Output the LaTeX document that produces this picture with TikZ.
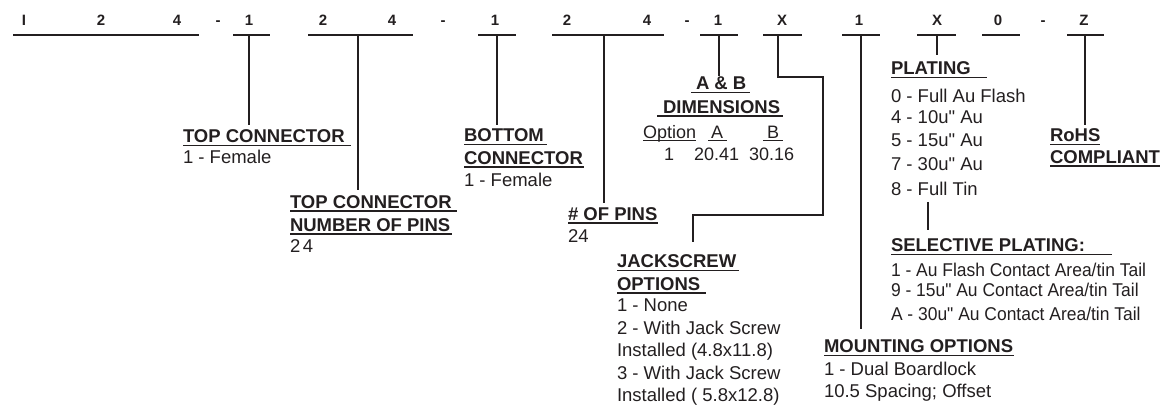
\documentclass[tikz,border=0pt]{standalone}
\usepackage{fontspec}
\usepackage{graphicx}
\setmainfont{Liberation Sans}[Ligatures=TeXOff]
\definecolor{ink}{HTML}{231F20}
\tikzset{
  every node/.style={inner sep=0pt, outer sep=0pt, text=ink},
  code/.style={anchor=base, font=\fontsize{15}{18}\selectfont\bfseries},
  head/.style={anchor=base west, font=\fontsize{18.5}{22}\selectfont\bfseries},
  body/.style={anchor=base west, font=\fontsize{18.5}{22}\selectfont},
  tab/.style={anchor=base, font=\fontsize{18}{22}\selectfont},
  tabw/.style={anchor=base west, font=\fontsize{18}{22}\selectfont},
  bar/.style={draw=ink, line width=2pt},
  conn/.style={draw=ink, line width=1.8pt},
  ul/.style={draw=ink, line width=1.6pt},
  tul/.style={draw=ink, line width=1pt},
}
\begin{document}
\begin{tikzpicture}[x=1pt, y=-1pt]
\useasboundingbox (0,0) rectangle (1174,406);

% code characters
\foreach \px/\ch [count=\i] in {24/I,101/2,177/4,218/-,249/1,323/2,392/4,443/-,495/1,567/2,647/4,687/-,718/1,782/X,859/1,937/X,998/0,1043/-,1084/Z}
  \node[code] (c\i) at (\px,26) {\ch};

% bars under the code
\foreach \a/\b in {13/199,233/270,308/413,478/516,552/664,700/738,763/802,842/880,917/956,982/1020,1067/1104}
  \draw[bar] (\a,35) -- (\b,35);

% connection points on the bars
\coordinate (k1) at (249,35);
\coordinate (k2) at (358,35);
\coordinate (k3) at (497,35);
\coordinate (k4) at (604,35);
\coordinate (k5) at (719,35);
\coordinate (k6) at (778,35);
\coordinate (k7) at (861,35);
\coordinate (k8) at (937,35);
\coordinate (k9) at (1085,35);

% TOP CONNECTOR
\node[head] (h1) at (183,142.7) {TOP CONNECTOR};
\node[body] (t1) at (183,163.3) {1 - Female};

% TOP CONNECTOR NUMBER OF PINS
\node[head] (h2a) at (290,208.3) {TOP CONNECTOR};
\node[head] (h2b) at (290,231) {NUMBER OF PINS};
\node[body] (t2) at (290,252.7) {2\kern2.5pt 4};

% BOTTOM CONNECTOR
\node[head] (h3a) at (464,141.7) {BOTTOM};
\node[head] (h3b) at (464,164.3) {CONNECTOR};
\node[body] (t3) at (464,186.7) {1 - Female};

% # OF PINS
\node[head] (h4) at (568,220) {\# OF PINS};
\node[body] (t4) at (568,242) {24};

% A & B DIMENSIONS
\node[head] (hAB) at (696,90) {A \& B};
\node[head] (hDim) at (663,113.3) {DIMENSIONS};
\node[tabw] (tOpt) at (643,138.7) {Option};
\node[tab] (tA) at (717,138.7) {A};
\node[tab] (tB) at (773,138.7) {B};
\node[tab] (v1) at (669,160.7) {1};
\node[tabw] (vA) at (694,160.7) {20.41};
\node[tabw] (vB) at (749,160.7) {30.16};

% JACKSCREW OPTIONS
\node[head] (h5a) at (617,267.7) {JACKSCREW};
\node[head] (h5b) at (617,290) {OPTIONS};
\node[body] (j1) at (617,311.7) {1 - None};
\node[body] (j2) at (617,334.3) {2 - With Jack Screw};
\node[body] (j3) at (617,356.7) {Installed (4.8x11.8)};
\node[body] (j4) at (617,379) {3 - With Jack Screw};
\node[body] (j5) at (617,401) {Installed ( 5.8x12.8)};

% MOUNTING OPTIONS
\node[head] (h6) at (824,352.7) {MOUNTING OPTIONS};
\node[body] (m1) at (824,375) {1 - Dual Boardlock};
\node[body] (m2) at (824,397.7) {10.5 Spacing; Offset};

% PLATING
\node[head] (h7) at (891,75) {PLATING};
\node[body] (p1) at (891,102.7) {0 - Full Au Flash};
\node[body] (p2) at (891,123.3) {4 - 10u" Au};
\node[body] (p3) at (891,146.7) {5 - 15u" Au};
\node[body] (p4) at (891,170.7) {7 - 30u" Au};
\node[body] (p5) at (891,195) {8 - Full Tin};

% SELECTIVE PLATING
\node[head] (h8) at (891,251.7) {SELECTIVE PLATING:};
\node[body] (s1) at (891,276.7) {\scalebox{0.943}[1]{1 - Au Flash Contact Area/tin Tail}};
\node[body] (s2) at (891,296) {\scalebox{0.943}[1]{9 - 15u" Au Contact Area/tin Tail}};
\node[body] (s3) at (891,320) {\scalebox{0.943}[1]{A - 30u" Au Contact Area/tin Tail}};

% RoHS
\node[head] (h9a) at (1050,141.7) {RoHS};
\node[head] (h9b) at (1050,163.3) {COMPLIANT};

% underlines of headings
\draw[ul] ([yshift=-2.7pt]h1.base west) -- ++(168,0);
\draw[ul] ([yshift=-2.7pt]h2a.base west) -- ++(167,0);
\draw[ul] ([yshift=-2.7pt]h2b.base west) -- ++(162,0);
\draw[ul] ([yshift=-2.7pt]h3a.base west) -- ++(83,0);
\draw[ul] ([yshift=-2.7pt]h3b.base west) -- ++(120,0);
\draw[ul] ([yshift=-2.7pt]h4.base west) -- ++(90,0);
\draw[ul] ([xshift=-5pt,yshift=-2.7pt]hAB.base west) -- ++(59,0);
\draw[ul] ([xshift=-6pt,yshift=-2.7pt]hDim.base west) -- ++(126,0);
\draw[tul] ([yshift=-1.5pt]tOpt.base west) -- ++(53,0);
\draw[tul] ([xshift=-9pt,yshift=-1.5pt]tA.base) -- ++(19,0);
\draw[tul] ([xshift=-10pt,yshift=-1.5pt]tB.base) -- ++(20,0);
\draw[ul] ([yshift=-2.7pt]h5a.base west) -- ++(122,0);
\draw[ul] ([yshift=-2.7pt]h5b.base west) -- ++(89,0);
\draw[ul] ([yshift=-2.7pt]h6.base west) -- ++(190,0);
\draw[ul] ([yshift=-2.7pt]h7.base west) -- ++(96,0);
\draw[ul] ([yshift=-2.7pt]h8.base west) -- ++(221,0);
\draw[ul] ([yshift=-2.7pt]h9a.base west) -- ++(50,0);
\draw[ul] ([yshift=-2.7pt]h9b.base west) -- ++(110,0);

% connectors
\draw[conn] (k1) -- ([yshift=4.3pt]k1 |- h1.north);
\draw[conn] (k2) -- ([yshift=5.6pt]k2 |- h2a.north);
\draw[conn] (k3) -- ([yshift=3.3pt]k3 |- h3a.north);
\draw[conn] (k4) -- ([yshift=3.6pt]k4 |- h4.north);
\draw[conn] (k5) -- ([yshift=1.6pt]k5 |- hAB.north);
\draw[conn] (k6) -- ++(0,42) -- ++(45,0) -- ++(0,138) -| ([xshift=76pt,yshift=12.3pt]h5a.north west);
\draw[conn] (k7) -- ([yshift=10.3pt]k7 |- h6.north);
\draw[conn] (k8) -- ([yshift=6.6pt]k8 |- h7.north);
\draw[conn] (k9) -- ([yshift=3.3pt]k9 |- h9a.north);
\draw[conn] ([xshift=37pt,yshift=-6.7pt]p5.south west) -- ([xshift=37pt,yshift=9pt]h8.north west);
\end{tikzpicture}
\end{document}
